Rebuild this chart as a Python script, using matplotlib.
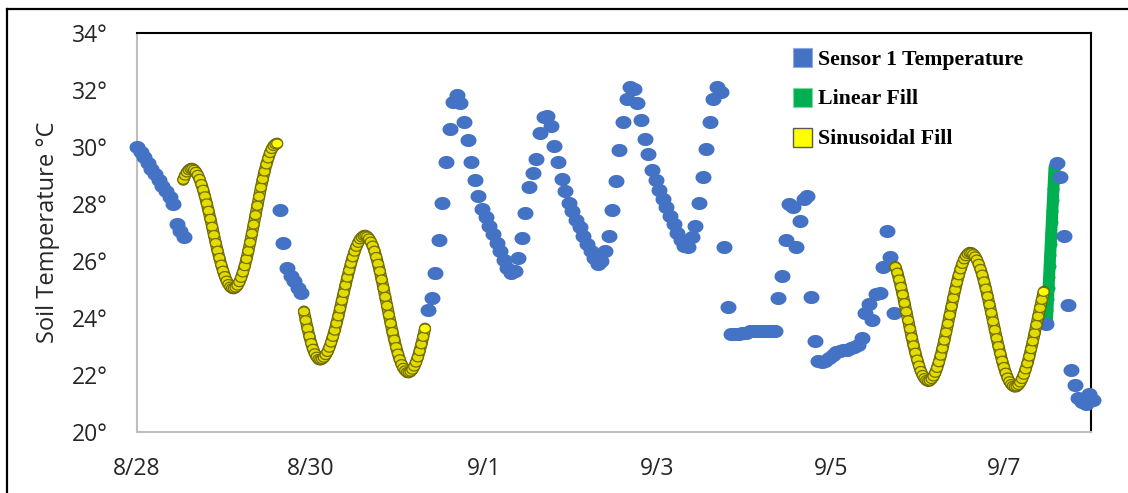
import numpy as np
import matplotlib.pyplot as plt
import matplotlib.patheffects as pe
from matplotlib.path import Path
from matplotlib.lines import Line2D

# x axis is hours since 8/28 00:00
tick_hours = [0, 48, 96, 144, 192, 240]
tick_labels = ['8/28', '8/30', '9/1', '9/3', '9/5', '9/7']
y_ticks = [20, 22, 24, 26, 28, 30, 32, 34]

# Sensor 1 readings (hourly), each run with its start hour
sensor_a_start = 0
sensor_a = [30.0, 29.85, 29.65, 29.45, 29.25, 29.05, 28.85, 28.65, 28.45, 28.25,
            28.0, 27.3, 27.05, 26.85]
sensor_b_start = 39.5
sensor_b = [27.8, 26.65, 25.75, 25.5, 25.3, 25.05, 24.88]
sensor_c_start = 80.5
sensor_c = [24.3, 24.7, 25.6, 26.75, 28.05, 29.5, 30.65, 31.6, 31.85, 31.55,
            30.9, 30.25, 29.5, 28.85, 28.3, 27.85, 27.55, 27.25, 26.95, 26.65,
            26.35, 26.05, 25.75, 25.6, 25.65, 26.1, 26.8, 27.7, 28.6, 29.1,
            29.6, 30.5, 31.05, 31.1, 30.75, 30.05, 29.5, 28.9, 28.45, 28.05,
            27.75, 27.45, 27.2, 26.9, 26.6, 26.35, 26.1, 25.9, 26.0, 26.35,
            26.9, 27.8, 28.8, 29.9, 30.9, 31.7, 32.1, 32.05, 31.55, 30.95,
            30.3, 29.75, 29.2, 28.85, 28.5, 28.2, 27.9, 27.6, 27.3, 27.0,
            26.75, 26.55, 26.5, 26.85, 27.25, 28.05, 28.95, 29.95, 30.9, 31.7,
            32.1, 31.95, 26.5, 24.4, 23.45, 23.45, 23.45, 23.5, 23.5, 23.55,
            23.55, 23.55, 23.55, 23.55, 23.55, 23.55, 23.55, 24.7, 25.5, 26.75,
            28.0, 27.9, 26.5, 27.4, 28.2, 28.3, 24.75, 23.2, 22.5, 22.45,
            22.5, 22.6, 22.7, 22.8, 22.85, 22.9, 22.9, 22.95, 23.0, 23.05,
            23.3, 24.2, 24.5, 23.95, 24.85, 24.9, 25.8, 27.05, 26.15, 24.2]
sensor_d_start = 251.5
sensor_d = [23.8, None, None, 29.45, 28.95, 26.9, 24.45, 22.2, 21.65, 21.2,
            21.05, 21.0, 21.35, 21.15]

# Linear fill
linear_hours = [251.8, 251.95, 252.1, 252.25, 252.4, 252.55, 252.7, 252.85,
                253.0, 253.15, 253.3, 253.45, 253.6, 253.75, 253.9]
linear_vals = [23.9, 24.29, 24.67, 25.06, 25.44, 25.83, 26.21, 26.6, 26.99,
               27.37, 27.76, 28.14, 28.53, 28.91, 29.3]

# Sinusoidal fill (half-hourly)
sin_a_start = 12.8
sin_a = [28.86, 29.01, 29.12, 29.20, 29.24, 29.25, 29.21, 29.14, 29.03, 28.89,
         28.71, 28.51, 28.28, 28.03, 27.77, 27.49, 27.21, 26.92, 26.64, 26.37,
         26.12, 25.88, 25.67, 25.48, 25.32, 25.20, 25.11, 25.06, 25.05, 25.08,
         25.15, 25.27, 25.42, 25.61, 25.83, 26.08, 26.36, 26.66, 26.97, 27.29,
         27.62, 27.95, 28.27, 28.59, 28.88, 29.15, 29.40, 29.61, 29.80, 29.94,
         30.05, 30.11, 30.13]
sin_b_start = 46.2
sin_b = [24.24, 23.93, 23.64, 23.37, 23.13, 22.93, 22.77, 22.65, 22.57, 22.55,
         22.57, 22.62, 22.71, 22.82, 22.97, 23.15, 23.35, 23.57, 23.82, 24.07,
         24.34, 24.62, 24.89, 25.16, 25.43, 25.68, 25.92, 26.14, 26.34, 26.51,
         26.65, 26.77, 26.84, 26.89, 26.90, 26.87, 26.80, 26.69, 26.55, 26.37,
         26.15, 25.91, 25.65, 25.36, 25.06, 24.75, 24.44, 24.12, 23.82, 23.52,
         23.25, 22.99, 22.76, 22.56, 22.39, 22.26, 22.17, 22.11, 22.10, 22.13,
         22.20, 22.31, 22.45, 22.63, 22.85, 23.09, 23.35, 23.64]
sin_c_start = 209.9
sin_c = [25.80, 25.60, 25.36, 25.10, 24.83, 24.53, 24.23, 23.93, 23.63, 23.33,
         23.05, 22.79, 22.55, 22.34, 22.15, 22.01, 21.90, 21.83, 21.80, 21.81,
         21.87, 21.96, 22.09, 22.26, 22.46, 22.69, 22.94, 23.22, 23.51, 23.81,
         24.11, 24.41, 24.71, 25.00, 25.26, 25.51, 25.72, 25.91, 26.07, 26.18,
         26.26, 26.30, 26.29, 26.25, 26.17, 26.06, 25.91, 25.73, 25.53, 25.29,
         25.04, 24.77, 24.48, 24.19, 23.89, 23.59, 23.30, 23.02, 22.76, 22.51,
         22.29, 22.09, 21.92, 21.79, 21.69, 21.63, 21.60, 21.61, 21.66, 21.75,
         21.87, 22.02, 22.21, 22.42, 22.66, 22.92, 23.19, 23.48, 23.77, 24.07,
         24.36, 24.65, 24.93]


def run(start, vals, step):
    v = np.array(vals, dtype=float)
    return start + step * np.arange(len(v)), v


sx, sy = [], []
for st, vals in [(sensor_a_start, sensor_a), (sensor_b_start, sensor_b),
                 (sensor_c_start, sensor_c), (sensor_d_start, sensor_d)]:
    h, v = run(st, vals, 1.0)
    sx.append(h)
    sy.append(v)
sx = np.concatenate(sx)
sy = np.concatenate(sy)

sin_runs = [run(st, vals, 0.5) for st, vals in
            [(sin_a_start, sin_a), (sin_b_start, sin_b), (sin_c_start, sin_c)]]

# slightly wide dots, like the original export
t = np.linspace(0, 2 * np.pi, 48)
dot = Path(np.column_stack([1.22 * np.cos(t), np.sin(t)]))
px = 72 / 100  # points per pixel

blue = '#4472C4'
green = '#00B050'
yellow = '#FFFF00'

fig = plt.figure(figsize=(11.28, 4.93), dpi=100)
ax = fig.add_axes([137 / 1128, 1 - 432.3 / 493, 954 / 1128, 399 / 493])

# linear fill: dense green band
ax.plot(linear_hours, linear_vals, color=green, lw=12 * px,
        solid_capstyle='round', zorder=2)
ax.scatter(linear_hours, linear_vals, s=(12 * px) ** 2, marker=dot,
           color=green, linewidths=0, zorder=2, clip_on=False)

ax.scatter(sx, sy, s=(16 * px) ** 2, marker=dot, color=blue,
           linewidths=0, zorder=3, clip_on=False)

# sinusoidal fill: packed yellow dots form an olive ribbon
for h, v in sin_runs:
    ax.plot(h, v, color='#B3AD00', lw=10 * px, solid_capstyle='round',
            zorder=4, path_effects=[pe.Stroke(linewidth=12 * px, foreground='#5F5C08'),
                                    pe.Normal()])
    faces = ['#E2DC00'] * (len(h) - 1) + [yellow]
    ax.scatter(h, v, s=(11 * px) ** 2, marker=dot, facecolor=faces,
               edgecolor='#746F00', linewidths=0.9, zorder=5, clip_on=False)

ax.set_xlim(0, 264)
ax.set_ylim(20, 34)
ax.set_xticks(tick_hours)
ax.set_xticklabels(tick_labels)
ax.set_yticks(y_ticks)
ax.set_yticklabels([f'{v}°' for v in y_ticks])
ax.tick_params(axis='both', length=0, labelsize=16.5, colors='#262626')
ax.tick_params(axis='y', pad=21)
ax.tick_params(axis='x', pad=18)
for lab in ax.get_xticklabels() + ax.get_yticklabels():
    lab.set_family('Open Sans')

ax.set_ylabel('Soil Temperature °C', family='Open Sans', fontsize=17,
              color='#262626')
ax.yaxis.set_label_coords(-0.081, 0.5)

for side in ['top', 'right']:
    ax.spines[side].set_color('black')
    ax.spines[side].set_linewidth(1.5)
for side in ['left', 'bottom']:
    ax.spines[side].set_color('#BFBFBF')
    ax.spines[side].set_linewidth(1.5)

handles = [
    Line2D([], [], ls='none', marker='s', markersize=19 * px, color=blue,
           markeredgecolor='#8FAADC', markeredgewidth=0.8),
    Line2D([], [], ls='none', marker='s', markersize=19 * px, color=green,
           markeredgecolor='#7FD7A7', markeredgewidth=0.8),
    Line2D([], [], ls='none', marker='s', markersize=19 * px, color=yellow,
           markeredgecolor='#595959', markeredgewidth=1.0),
]
ax.legend(handles, ['Sensor 1 Temperature', 'Linear Fill', 'Sinusoidal Fill'],
          loc='upper left', bbox_to_anchor=(0.6866, 0.960), frameon=False,
          borderpad=0, borderaxespad=0, handlelength=0.87, handletextpad=0.3,
          labelspacing=0.9,
          prop={'family': 'Liberation Serif', 'weight': 'bold', 'size': 15.7})

# outer frame of the exported picture
fig.add_artist(Line2D([7 / 1128, 7 / 1128], [-0.1, 1 - 9 / 493],
                      transform=fig.transFigure, color='black', lw=1.6))
fig.add_artist(Line2D([7 / 1128, 1.1], [1 - 9 / 493, 1 - 9 / 493],
                      transform=fig.transFigure, color='black', lw=1.6))

fig.savefig('out.png', dpi=100)
